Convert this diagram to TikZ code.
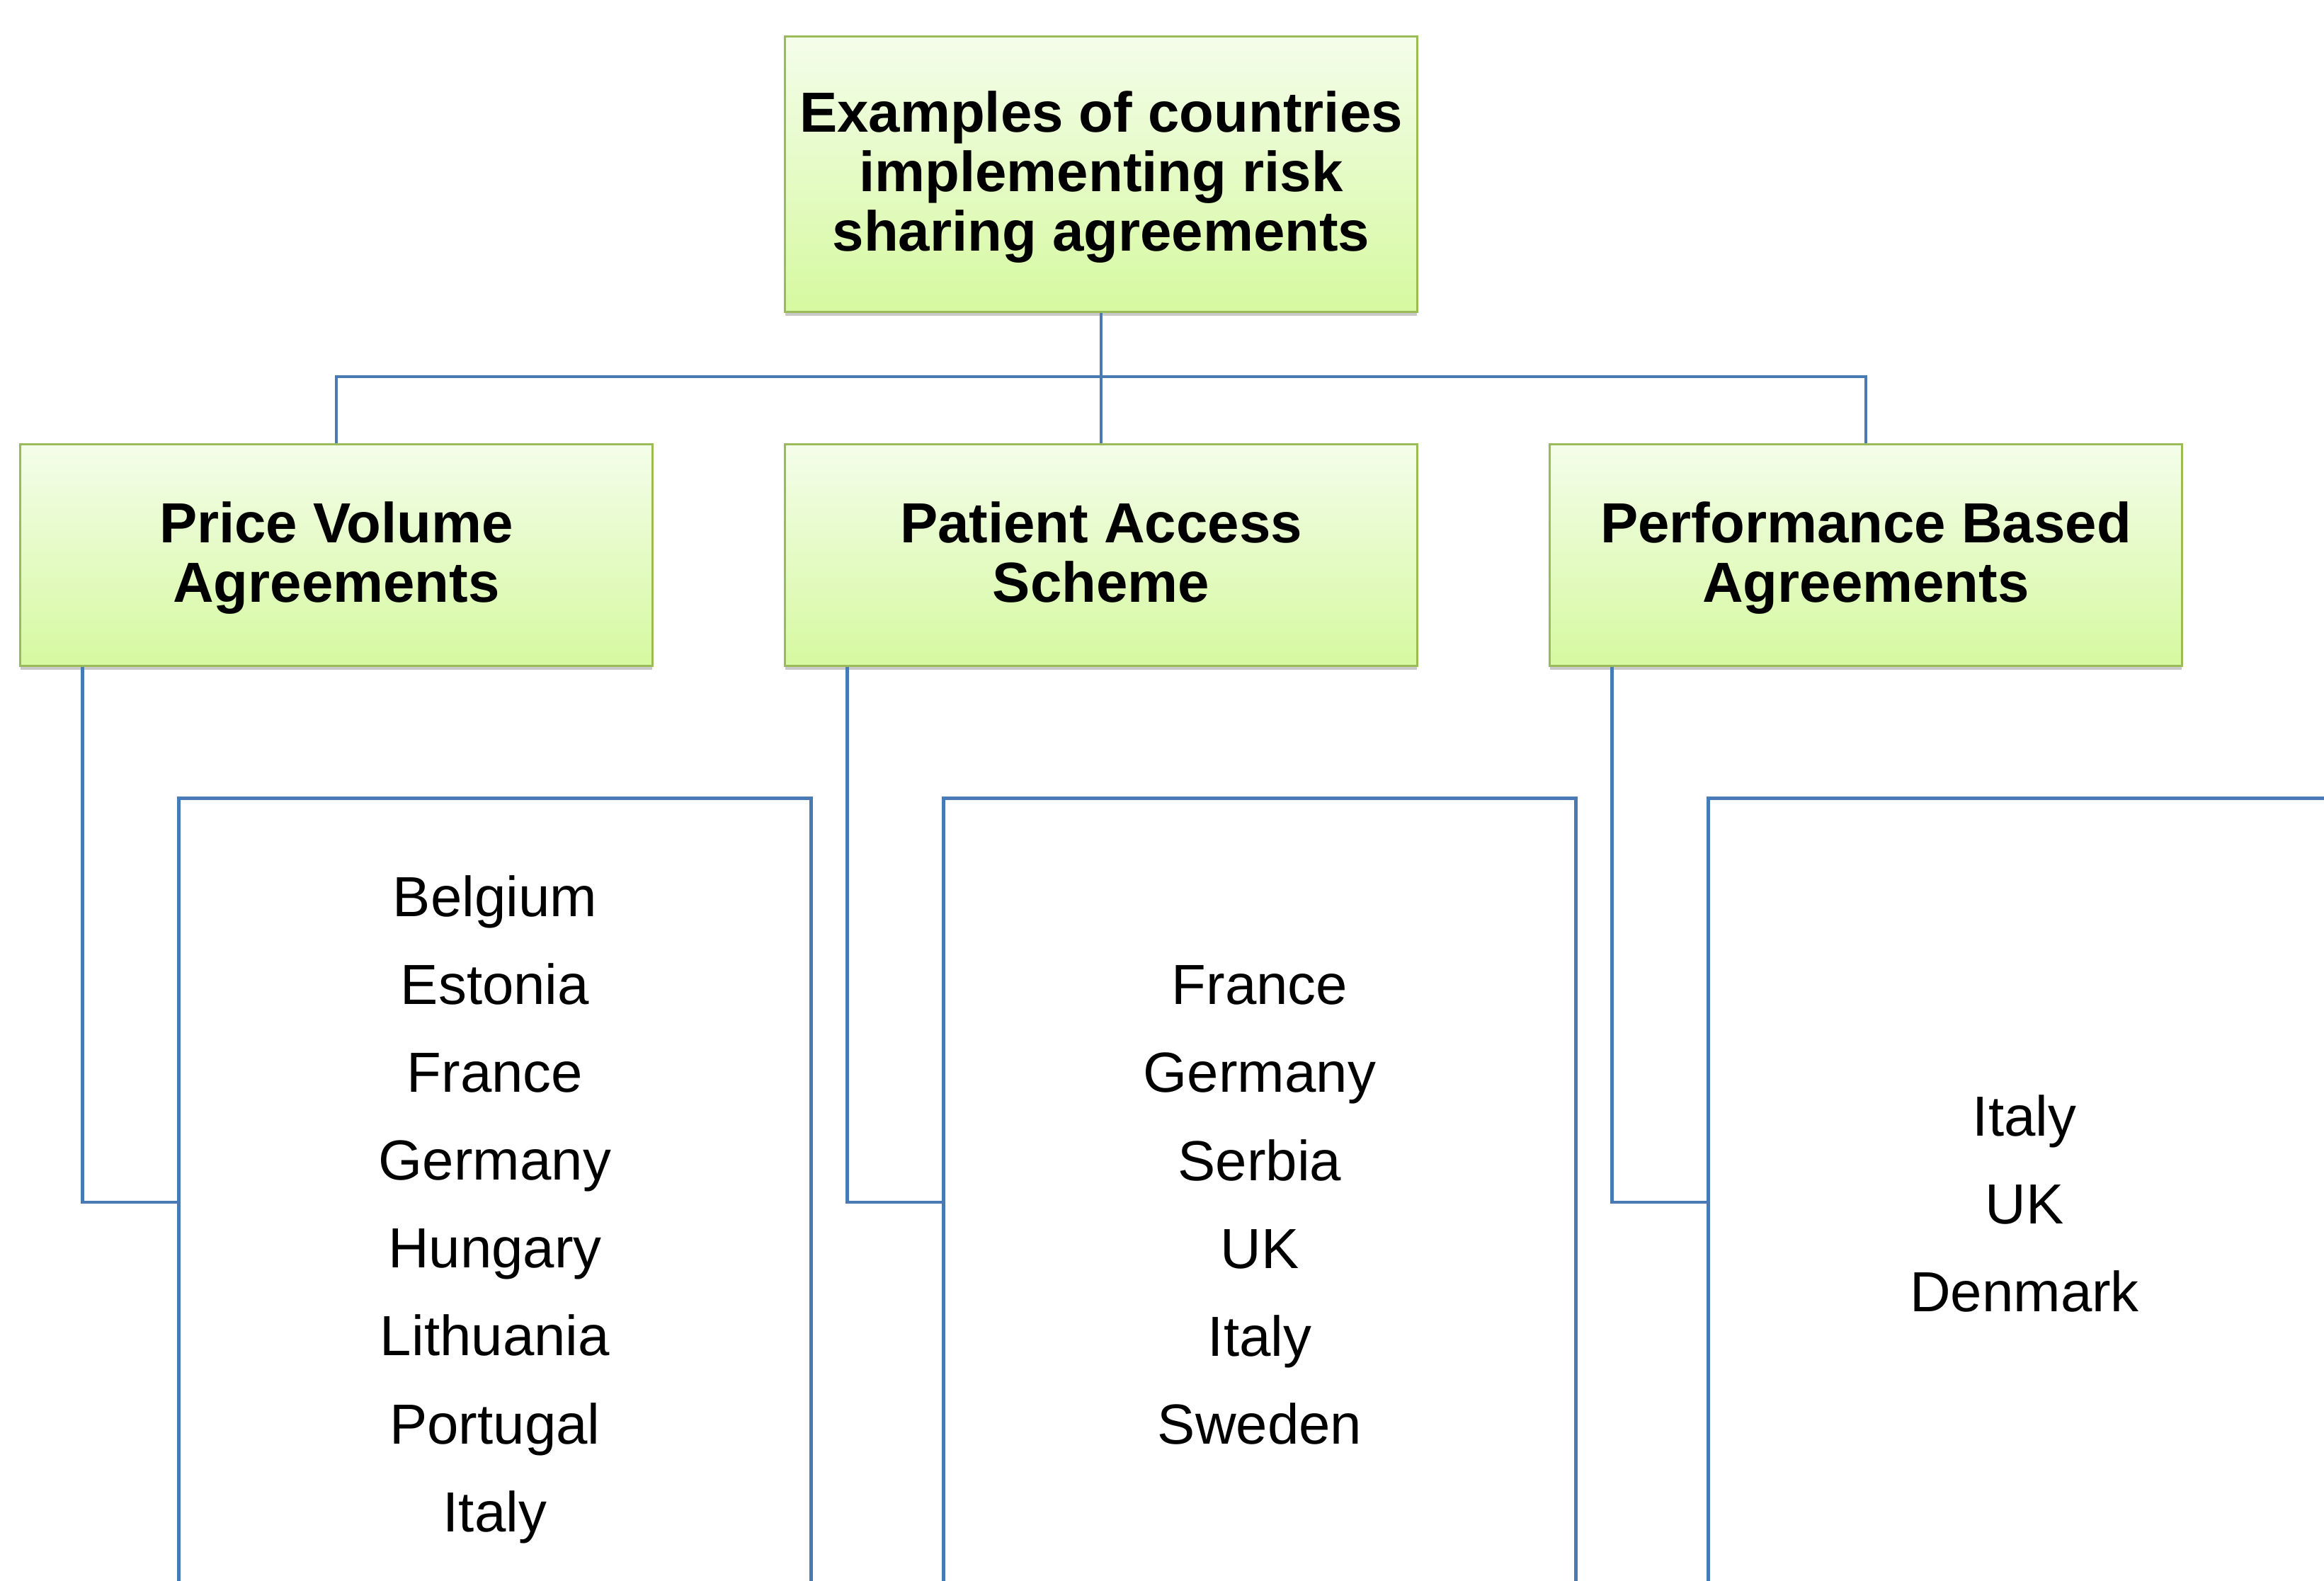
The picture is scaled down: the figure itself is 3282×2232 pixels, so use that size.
\documentclass[tikz,border=0pt]{standalone}
\usepackage{fontspec}
\setmainfont{Liberation Sans}
\usetikzlibrary{shadows,calc}
\definecolor{linkblue}{HTML}{4A7AB4}
\definecolor{boxgreen}{HTML}{9BBB59}
\definecolor{gradtop}{HTML}{F4FDEA}
\definecolor{gradbot}{HTML}{D6F9A0}
\tikzset{
  hdrbox/.style={draw=boxgreen, line width=0.85pt, top color=gradtop, bottom color=gradbot,
    minimum width=8.92cm, inner sep=0pt,
    drop shadow={shadow xshift=0pt, shadow yshift=-1.6pt, opacity=0.3, fill=black!70}},
  hdrtext/.style={inner sep=0pt, align=center,
    font=\fontsize{22.7}{23.9}\selectfont\bfseries},
  listbox/.style={draw=linkblue, line width=1.4pt, fill=white,
    minimum width=8.92cm, minimum height=11.4cm, inner sep=0pt},
  listtext/.style={inner sep=0pt, align=center,
    font=\fontsize{22.7}{35.3}\selectfont},
  link/.style={draw=linkblue, line width=1.3pt}
}
\begin{document}
\begin{tikzpicture}[x=0.01cm, y=-0.01cm]
\useasboundingbox (0,0) rectangle (3282,2232);
\clip (0,0) rectangle (3282,2232);

% header row
\node[hdrbox, minimum height=3.88cm] (top) at (1555,246) {};
\node[hdrbox, minimum height=3.12cm] (pva) at (475,784) {};
\node[hdrbox, minimum height=3.12cm] (pas) at (1555,784) {};
\node[hdrbox, minimum height=3.12cm] (pba) at (2635,784) {};
\node[hdrtext] (topt) at ($(top.center)+(0,4)$)
  {Examples of countries\\implementing risk\\sharing agreements};
\node[hdrtext] (pvat) at ($(pva.center)+(0,4)$) {Price Volume\\Agreements};
\node[hdrtext] (past) at ($(pas.center)+(0,-4)$) {Patient Access\\Scheme};
\node[hdrtext] (pbat) at ($(pba.center)+(0,4)$) {Performance Based\\Agreements};

% country lists
\node[listbox] (pvl) at (699,1698) {};
\node[listbox] (pasl) at (1779,1698) {};
\node[listbox] (pbal) at (2859,1698) {};
\node[listtext] (pvlt) at ($(pvl.center)+(0,10)$)
  {Belgium\\Estonia\\France\\Germany\\Hungary\\Lithuania\\Portugal\\Italy};
\node[listtext] (paslt) at ($(pasl.center)+(0,4)$)
  {France\\Germany\\Serbia\\UK\\Italy\\Sweden};
\node[listtext] (pbalt) at ($(pbal.center)+(0,2)$)
  {Italy\\UK\\Denmark};

% tree connectors
\coordinate (bus) at (1555,532);
\draw[link] (top.south) -- (pas.north);
\draw[link] (pva.north) -- (pva.north |- bus) -- (pba.north |- bus) -- (pba.north);

% elbow connectors to the lists
\draw[link] ($(pva.south west)+(89,0)$) |- (pvl.west);
\draw[link] ($(pas.south west)+(89,0)$) |- (pasl.west);
\draw[link] ($(pba.south west)+(89,0)$) |- (pbal.west);
\end{tikzpicture}
\end{document}
